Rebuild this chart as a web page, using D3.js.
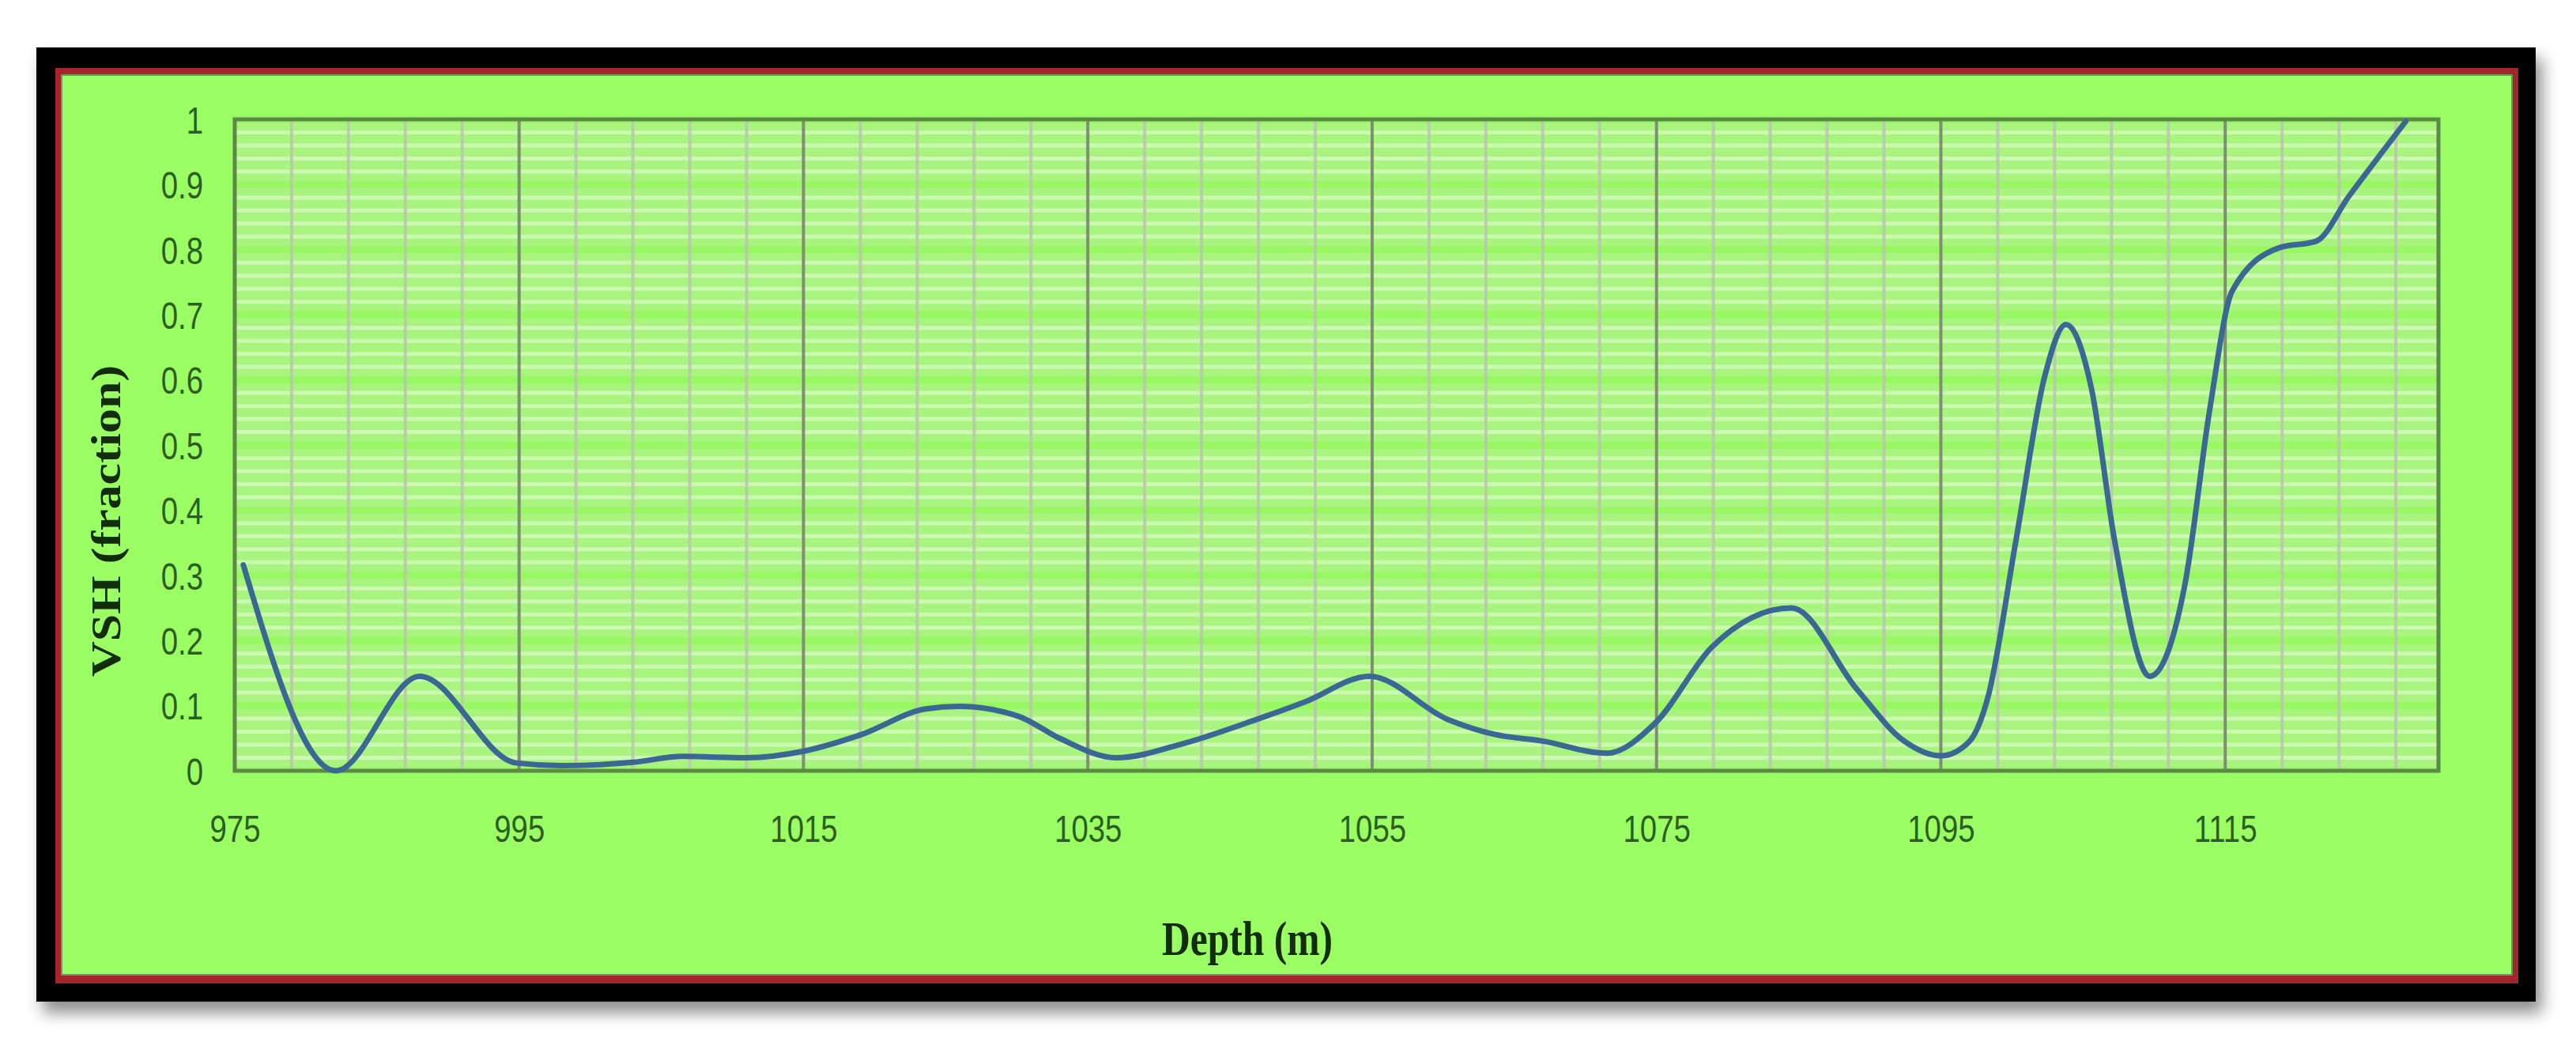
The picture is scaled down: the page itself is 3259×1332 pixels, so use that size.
<!DOCTYPE html>
<html><head><meta charset="utf-8">
<script src="https://cdn.jsdelivr.net/npm/d3@7"></script>
<style>html,body{margin:0;padding:0;background:#fff;} svg{display:block}</style>
</head><body>
<script>
// ---- data ----
const depths = [975.6, 982.1, 988, 994.8, 998, 1003, 1006.5, 1011, 1015, 1019, 1023.6, 1026, 1030.2,
  1033, 1037.0, 1041.9, 1046.9, 1050.3, 1054.8, 1060.3, 1063.6, 1066.9, 1071.5, 1074.9, 1078.9, 1084.5, 1089.1,
  1092.4, 1095.0, 1097.0, 1098.3, 1100.3, 1102.3, 1103.8, 1105.6, 1107.2, 1109.7, 1112.2, 1113.9, 1115.5, 1118.8,
  1121.4, 1123.7, 1127.7];
const vsh = [0.316, 0.0, 0.145, 0.012, 0.008, 0.013, 0.022, 0.020, 0.030, 0.055, 0.095, 0.099, 0.083,
  0.050, 0.020, 0.043, 0.079, 0.106, 0.145, 0.079, 0.056, 0.046, 0.027, 0.073, 0.190, 0.250, 0.125,
  0.046, 0.023, 0.045, 0.112, 0.356, 0.605, 0.685, 0.586, 0.356, 0.145, 0.290, 0.553, 0.737, 0.803,
  0.813, 0.882, 0.997];
const xTicks = [975, 995, 1015, 1035, 1055, 1075, 1095, 1115];
const yTicks = [0, 0.1, 0.2, 0.3, 0.4, 0.5, 0.6, 0.7, 0.8, 0.9, 1];
const xDomain = [975, 1130];
const yDomain = [0, 1];
const xTitle = "Depth (m)";
const yTitle = "VSH (fraction)";

// ---- layout ----
const W = 3259, H = 1332;
const P = {left: 297, top: 151, right: 3085, bottom: 975};

const svg = d3.select("body").append("svg").attr("width", W).attr("height", H);
const defs = svg.append("defs");
const f = defs.append("filter").attr("id", "shadow")
  .attr("x", "-5%").attr("y", "-5%").attr("width", "112%").attr("height", "120%");
f.append("feDropShadow").attr("dx", 8).attr("dy", 14).attr("stdDeviation", 10)
  .attr("flood-color", "#000").attr("flood-opacity", 0.45);

// frame
svg.append("rect").attr("x", 46).attr("y", 60).attr("width", 3162).attr("height", 1207)
  .attr("fill", "#000").attr("filter", "url(#shadow)");
svg.append("rect").attr("x", 70).attr("y", 86).attr("width", 3116).attr("height", 1158).attr("fill", "#a3262c");
svg.append("rect").attr("x", 77).attr("y", 94).attr("width", 3102).attr("height", 1140).attr("fill", "#6f9a5e");
svg.append("rect").attr("x", 79).attr("y", 96).attr("width", 3098).attr("height", 1136).attr("fill", "#9bfd64");

const x = d3.scaleLinear().domain(xDomain).range([P.left, P.right]);
const y = d3.scaleLinear().domain(yDomain).range([P.bottom, P.top]);

// plot background
svg.append("rect").attr("x", P.left).attr("y", P.top)
  .attr("width", P.right - P.left).attr("height", P.bottom - P.top).attr("fill", "#a8f47f");

const grid = svg.append("g");
// minor horizontal stripes every 0.02
const minorY = d3.range(0, 51).map(i => i / 50).filter(v => Math.round(v * 50) % 5 !== 0);
grid.selectAll("line.hm").data(minorY).join("line")
  .attr("x1", P.left).attr("x2", P.right)
  .attr("y1", d => y(d)).attr("y2", d => y(d))
  .attr("stroke", "#cbf9b2").attr("stroke-width", 5);
// major horizontal every 0.1
grid.selectAll("line.hM").data(yTicks).join("line")
  .attr("x1", P.left).attr("x2", P.right)
  .attr("y1", d => y(d)).attr("y2", d => y(d))
  .attr("stroke", "#97f862").attr("stroke-width", 9);
// minor verticals every 4 m
const minorX = d3.range(0, 39).map(i => xDomain[0] + 4 * i).filter(v => !xTicks.includes(v));
grid.selectAll("line.vm").data(minorX).join("line")
  .attr("x1", d => x(d)).attr("x2", d => x(d))
  .attr("y1", P.top).attr("y2", P.bottom)
  .attr("stroke", "#bac6ac").attr("stroke-opacity", 0.85).attr("stroke-width", 4);
grid.selectAll("line.vM").data(xTicks).join("line")
  .attr("x1", d => x(d)).attr("x2", d => x(d))
  .attr("y1", P.top).attr("y2", P.bottom)
  .attr("stroke", "#7f8f70").attr("stroke-width", 4);

// plot border
svg.append("rect").attr("x", P.left).attr("y", P.top)
  .attr("width", P.right - P.left).attr("height", P.bottom - P.top)
  .attr("fill", "none").attr("stroke", "#5a8a46").attr("stroke-width", 5);

// curve
const pts = depths.map((d, i) => [d, vsh[i]]);
const line = d3.line().x(d => x(d[0])).y(d => y(d[1])).curve(d3.curveMonotoneX);
svg.append("path").datum(pts).attr("d", line)
  .attr("fill", "none").attr("stroke", "#3a6892").attr("stroke-width", 7)
  .attr("stroke-linejoin", "round").attr("stroke-linecap", "round");

// axes (labels only)
const tickFont = "'Liberation Sans', Arial, sans-serif";
const xAxis = svg.append("g").attr("transform", `translate(0,${P.bottom})`)
  .call(d3.axisBottom(x).tickValues(xTicks).tickSize(0).tickFormat(d3.format("d")));
xAxis.select(".domain").remove();
xAxis.selectAll("text")
  .attr("y", 0).attr("dy", 0)
  .attr("transform", "translate(0,90) scale(0.8,1)")
  .attr("font-family", tickFont).attr("font-size", 48).attr("fill", "#2b5f1d");

const yAxis = svg.append("g").attr("transform", `translate(${P.left},0)`)
  .call(d3.axisLeft(y).tickValues(yTicks).tickSize(0).tickFormat(d => d3.format("")(+d.toFixed(1))));
yAxis.select(".domain").remove();
yAxis.selectAll("text")
  .attr("x", 0).attr("dy", "0.36em")
  .attr("transform", "translate(-40,0) scale(0.8,1)")
  .attr("font-family", tickFont).attr("font-size", 48).attr("fill", "#2b5f1d");

// titles
const titleFont = "'Liberation Serif', 'Times New Roman', serif";
svg.append("text").text(xTitle)
  .attr("transform", "translate(1578,1208) scale(0.8,1)")
  .attr("text-anchor", "middle")
  .attr("font-family", titleFont).attr("font-weight", "bold").attr("font-size", 62).attr("fill", "#132d0c");
svg.append("text").text(yTitle)
  .attr("transform", "translate(152,659) scale(0.85,1) rotate(-90)")
  .attr("text-anchor", "middle")
  .attr("font-family", titleFont).attr("font-weight", "bold").attr("font-size", 62).attr("fill", "#132d0c");
</script>
</body></html>
